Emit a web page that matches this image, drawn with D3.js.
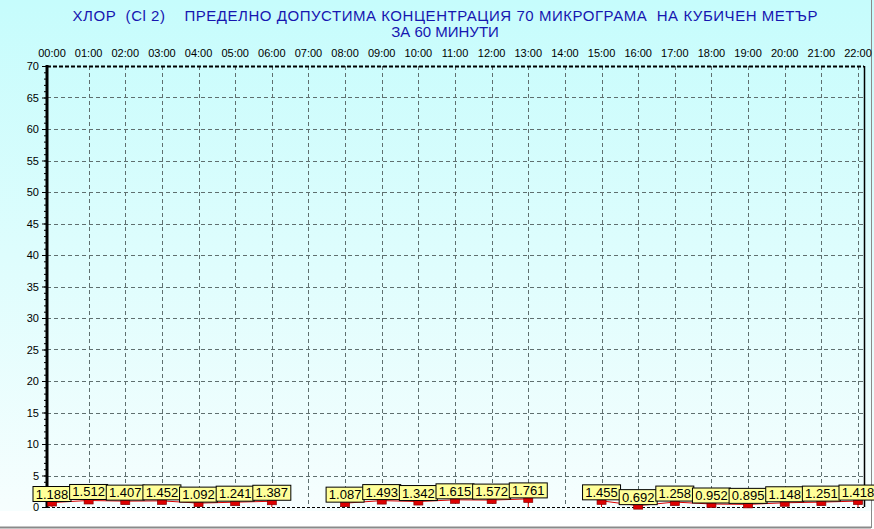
<!DOCTYPE html>
<html>
<head>
<meta charset="utf-8">
<script src="https://cdn.jsdelivr.net/npm/d3@7"></script>
<style>
  body { margin: 0; padding: 0; background: #fff; }
  svg { display: block; }
  .title { white-space: pre; }
</style>
</head>
<body>
<div id="chart"></div>
<script>
// ------------------------------------------------------------
// data
// ------------------------------------------------------------
var titleLines = [
    "ХЛОР  (Cl 2)    ПРЕДЕЛНО ДОПУСТИМА КОНЦЕНТРАЦИЯ 70 МИКРОГРАМА  НА КУБИЧЕН МЕТЪР",
    "ЗА 60 МИНУТИ"
];
var hourLabels = ["00:00","01:00","02:00","03:00","04:00","05:00","06:00","07:00","08:00","09:00",
                  "10:00","11:00","12:00","13:00","14:00","15:00","16:00","17:00","18:00","19:00",
                  "20:00","21:00","22:00"];
var values = [1.188, 1.512, 1.407, 1.452, 1.092, 1.241, 1.387, null,
              1.087, 1.493, 1.342, 1.615, 1.572, 1.761, null,
              1.455, 0.692, 1.258, 0.952, 0.895, 1.148, 1.251, 1.418];
var yTicks = [0, 5, 10, 15, 20, 25, 30, 35, 40, 45, 50, 55, 60, 65, 70];

// ------------------------------------------------------------
// layout
// ------------------------------------------------------------
var W = 874, H = 529;
var svg = d3.select("#chart").append("svg")
    .attr("width", W)
    .attr("height", H);

var x = d3.scaleLinear().domain([0, 22]).range([52, 858]);
var y = d3.scaleLinear().domain([0, 70]).range([507, 66]);
var plotL = 47, plotR = 864, plotT = y(70), plotB = y(0);

var defs = svg.append("defs");
var grad = defs.append("linearGradient")
    .attr("id", "bg").attr("x1", 0).attr("y1", 0).attr("x2", 0).attr("y2", 1);
grad.append("stop").attr("offset", "0%").attr("stop-color", "#c6fcfc");
grad.append("stop").attr("offset", "100%").attr("stop-color", "#f6fefe");

svg.append("rect").attr("x", 0).attr("y", 0).attr("width", W).attr("height", H).attr("fill", "#fff");
svg.append("rect").attr("x", 0).attr("y", 0).attr("width", W).attr("height", plotB + 4).attr("fill", "url(#bg)");

// outer frame (bottom / right)
svg.append("line").attr("x1", 0).attr("x2", 871).attr("y1", 527.5).attr("y2", 527.5)
    .attr("stroke", "#8a8a8a").attr("stroke-width", 2);
svg.append("line").attr("x1", 871.5).attr("x2", 871.5).attr("y1", 0).attr("y2", 528)
    .attr("stroke", "#8a8a8a").attr("stroke-width", 1);

// title
svg.append("g").selectAll("text")
    .data(titleLines)
    .enter()
    .append("text")
    .attr("class", "title")
    .attr("x", 445)
    .attr("y", function (d, i) { return 21 + i * 16; })
    .attr("text-anchor", "middle")
    .attr("font-family", "Liberation Sans, Arial, sans-serif")
    .attr("font-size", 15)
    .attr("fill", "#1616b0")
    .each(function (d, i) {
        if (i === 0) d3.select(this).attr("textLength", 745).attr("lengthAdjust", "spacing");
    })
    .text(function (d) { return d; });

// grid
var grid = svg.append("g").attr("stroke", "#5f6f6f").attr("stroke-dasharray", "4,3");
grid.selectAll("line.h")
    .data(yTicks.filter(function (d) { return d > 0 && d < 70; }))
    .enter().append("line")
    .attr("x1", plotL).attr("x2", plotR)
    .attr("y1", function (d) { return Math.round(y(d)) + 0.5; })
    .attr("y2", function (d) { return Math.round(y(d)) + 0.5; });
grid.selectAll("line.v")
    .data(d3.range(1, 23))
    .enter().append("line")
    .attr("y1", plotT).attr("y2", plotB)
    .attr("x1", function (d) { return Math.round(x(d)) + 0.5; })
    .attr("x2", function (d) { return Math.round(x(d)) + 0.5; });

// top & bottom dashed borders, right solid border
svg.append("line").attr("x1", plotL).attr("x2", plotR)
    .attr("y1", Math.round(plotT) + 0.5).attr("y2", Math.round(plotT) + 0.5)
    .attr("stroke", "#000").attr("stroke-width", 2).attr("stroke-dasharray", "4,2");
svg.append("line").attr("x1", plotL).attr("x2", plotR)
    .attr("y1", plotB + 0.5).attr("y2", plotB + 0.5)
    .attr("stroke", "#000").attr("stroke-dasharray", "3,2");
svg.append("line").attr("x1", plotR + 0.5).attr("x2", plotR + 0.5)
    .attr("y1", plotT).attr("y2", plotB)
    .attr("stroke", "#000").attr("stroke-width", 1.5);

// top hour labels
svg.append("g").selectAll("text")
    .data(hourLabels)
    .enter().append("text")
    .attr("x", function (d, i) { return x(i); })
    .attr("y", 57)
    .attr("text-anchor", "middle")
    .attr("font-family", "Liberation Sans, Arial, sans-serif")
    .attr("font-size", 11)
    .attr("fill", "#000")
    .text(function (d) { return d; });

// y axis
var yAxis = d3.axisLeft(y)
    .tickValues(yTicks)
    .tickSize(5)
    .tickPadding(3);
var gy = svg.append("g").attr("transform", "translate(" + plotL + ",0)").call(yAxis);
gy.select(".domain").remove();
gy.selectAll("text")
    .attr("font-family", "Liberation Sans, Arial, sans-serif")
    .attr("font-size", 11)
    .attr("fill", "#000");
gy.selectAll("line").attr("stroke", "#000");
var yMinor = d3.axisLeft(y).tickValues(d3.range(0, 71)).tickSize(3).tickFormat("");
var gym = svg.append("g").attr("transform", "translate(" + plotL + ",0)").call(yMinor);
gym.select(".domain").remove();
gym.selectAll("line").attr("stroke", "#000");
svg.append("line").attr("x1", plotL).attr("x2", plotL)
    .attr("y1", plotT - 1).attr("y2", plotB + 1)
    .attr("stroke", "#000").attr("stroke-width", 3);

// ------------------------------------------------------------
// series
// ------------------------------------------------------------
var pts = values.map(function (v, i) { return { i: i, v: v }; });
var segments = [];
var cur = [];
pts.forEach(function (p) {
    if (p.v === null) { if (cur.length) segments.push(cur); cur = []; }
    else cur.push(p);
});
if (cur.length) segments.push(cur);

var line = d3.line()
    .x(function (d) { return x(d.i); })
    .y(function (d) { return d.base ? plotB : y(d.v) + 3; });

svg.append("g").selectAll("path")
    .data(segments)
    .enter().append("path")
    .attr("d", function (seg) {
        var s = [{ i: seg[0].i, base: true }].concat(seg, [{ i: seg[seg.length - 1].i, base: true }]);
        return line(s);
    })
    .attr("fill", "none")
    .attr("stroke", "#dd0000")
    .attr("stroke-width", 1);

var valid = pts.filter(function (p) { return p.v !== null; });

svg.append("g").selectAll("rect")
    .data(valid)
    .enter().append("rect")
    .attr("x", function (d) { return x(d.i) - 4.5; })
    .attr("y", function (d) { return y(d.v) + 1.5; })
    .attr("width", 9)
    .attr("height", 5)
    .attr("fill", "#dd0000")
    .attr("stroke", "#880000")
    .attr("stroke-width", 0.7);

var labels = svg.append("g").selectAll("g")
    .data(valid)
    .enter().append("g")
    .attr("transform", function (d) { return "translate(" + x(d.i) + "," + (y(d.v) - 13) + ")"; });
labels.append("rect")
    .attr("x", -19).attr("y", 0)
    .attr("width", 38).attr("height", 15)
    .attr("fill", "#ffff99")
    .attr("stroke", "#000")
    .attr("stroke-width", 1);
labels.append("text")
    .attr("x", 0).attr("y", 12)
    .attr("text-anchor", "middle")
    .attr("font-family", "Liberation Sans, Arial, sans-serif")
    .attr("font-size", 13)
    .attr("fill", "#000")
    .text(function (d) { return d3.format(".3f")(d.v); });
</script>
</body>
</html>
